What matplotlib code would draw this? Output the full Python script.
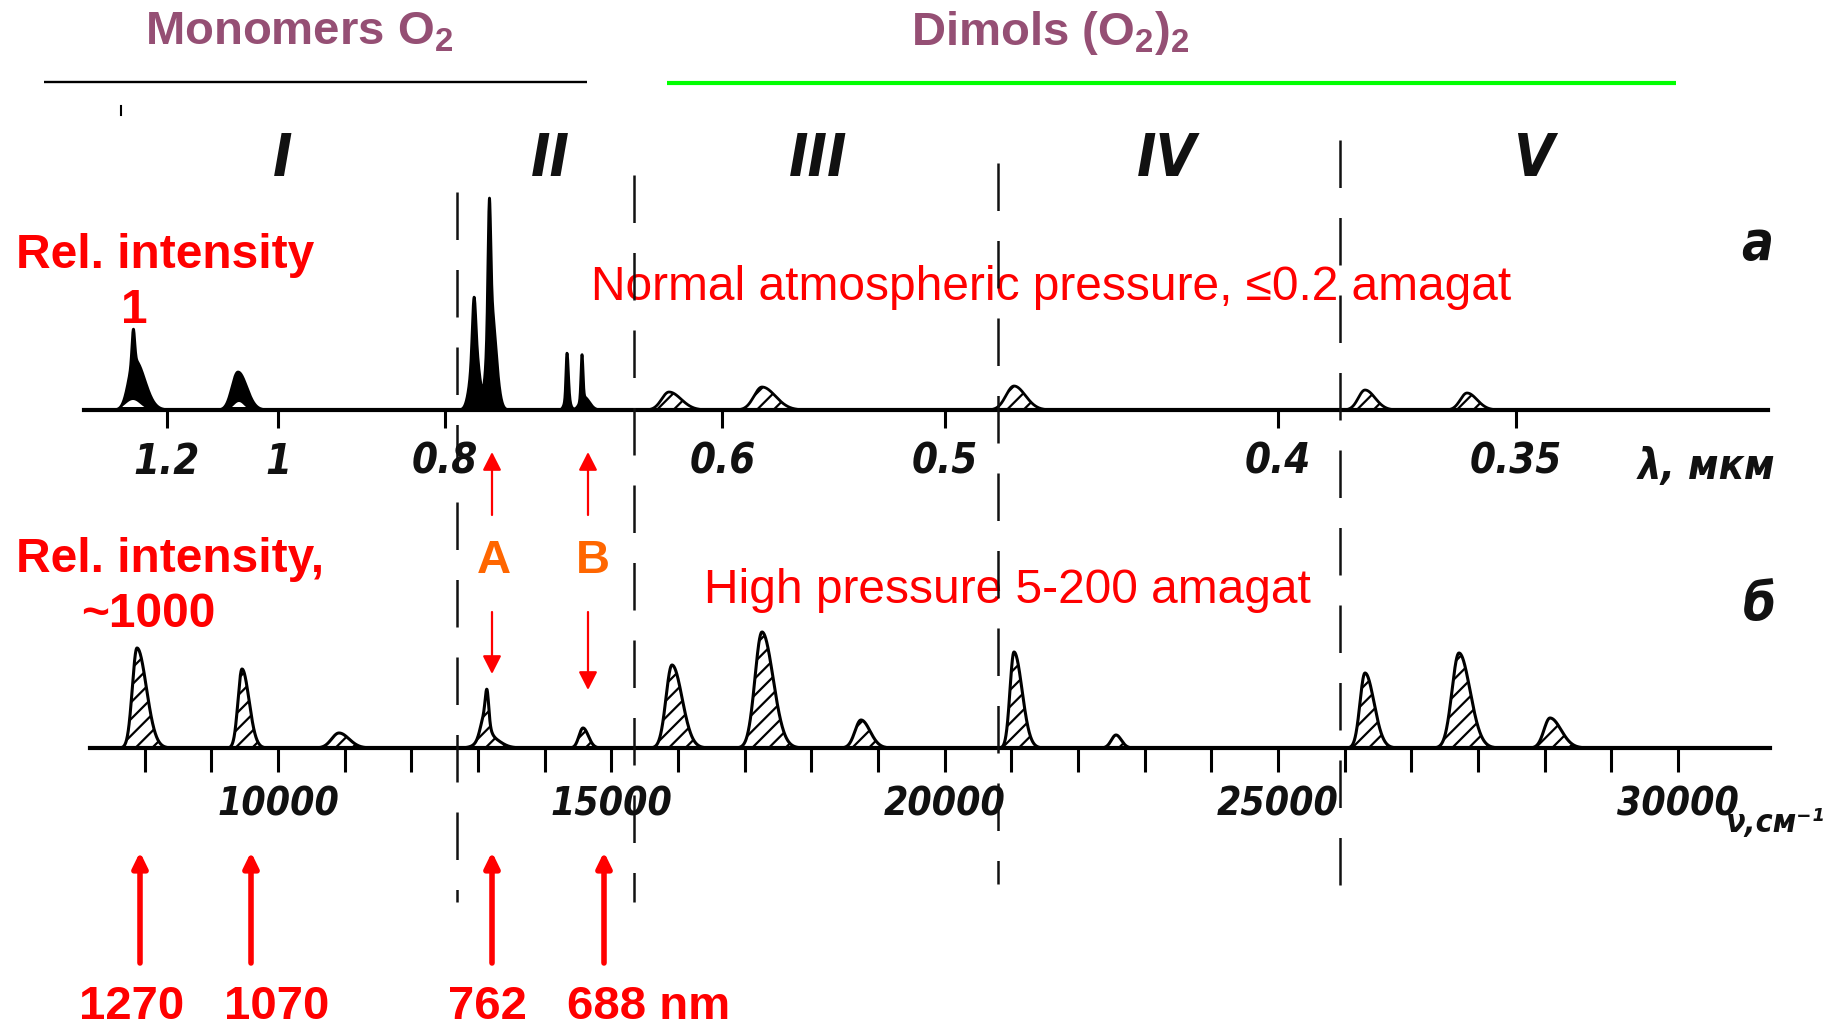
import numpy as np
import matplotlib
matplotlib.use("Agg")
import matplotlib.pyplot as plt
from matplotlib.transforms import blended_transform_factory
from matplotlib.font_manager import FontProperties

plt.rcParams['mathtext.fontset'] = 'custom'
plt.rcParams['mathtext.bf'] = 'Liberation Sans:bold'
plt.rcParams['mathtext.rm'] = 'Liberation Sans:bold'
plt.rcParams['hatch.linewidth'] = 1.6

# ---------------- data ----------------
# visible wavenumber range across the figure (cm^-1)
nu_view = [5830, 33190]
top_base_range = [7090, 32350]
bot_base_range = [7180, 32380]

# (a) normal pressure: O2 monomer bands (solid black)
top_mono_center = [7830, 7850, 9400, 12940, 12960, 13170, 13190, 14335, 14340, 14560, 14590]
top_mono_height = [32, 50, 38, 55, 60, 110, 108, 45, 12, 44, 13]
top_mono_wl     = [20, 90, 90, 25, 70, 20, 55, 15, 40, 15, 60]
top_mono_wr     = [20, 150, 130, 25, 60, 20, 75, 20, 40, 15, 80]
# white gaps at the foot of the two IR monomer bands (scan detail)
top_gap_center = [7825, 9415]
top_gap_height = [10, 8]
top_gap_w      = [110, 75]
# (a) weak dimol bands (hatched)
top_dim_center = [15865, 17260, 21040, 26305, 27835]
top_dim_height = [18, 23, 24, 20, 17]
top_dim_wl     = [110, 120, 120, 100, 100]
top_dim_wr     = [180, 200, 170, 150, 150]

# (b) high pressure bands (hatched)
bot_center = [7885, 9460, 10915, 13100, 13135, 13150, 14575, 15910, 17260, 18745,
              21040, 22570, 26305, 27715, 29080]
bot_height = [100, 79, 15, 22, 28, 12, 20, 83, 116, 28, 96, 13, 75, 95, 30]
bot_wl     = [70, 60, 110, 60, 25, 130, 60, 90, 105, 90, 60, 70, 75, 105, 90]
bot_wr     = [140, 105, 150, 60, 25, 160, 80, 150, 165, 135, 120, 80, 135, 165, 165]

# wavelength axis of (a), micrometres
top_tick_um = [1.2, 1.0, 0.8, 0.6, 0.5, 0.4, 0.35]
top_tick_lbl = ['1.2', '1', '0.8', '0.6', '0.5', '0.4', '0.35']
# wavenumber axis of (b)
bot_ticks = list(range(8000, 32000, 1000))
bot_lbl_at = {10000: '10000', 15000: '15000', 20000: '20000', 25000: '25000', 31000: '30000'}

# band-region separators (cm^-1)
sep_nu = [12684, 15337, 20795, 25937]
roman = ['I', 'II', 'III', 'IV', 'V']
roman_nu = [10075, 14080, 18100, 23335, 28825]

# arrows
small_arrow_nu = [13210, 14650]
big_arrow_nu = [7930, 9595, 13210, 14890]
big_arrow_lbl = ['1270', '1070', '762', '688 nm']


def bands(x, centers, heights, wl, wr):
    y = np.zeros_like(x)
    for c, h, a, b in zip(centers, heights, wl, wr):
        s = np.where(x < c, a, b)
        y += h * np.exp(-0.5 * ((x - c) / s) ** 2)
    return y


# ---------------- figure ----------------
W, H = 1824, 1026
fig = plt.figure(figsize=(W / 100, H / 100), dpi=100)


def px_box(top_row, bottom_row):
    return [0, 1 - bottom_row / H, 1, (bottom_row - top_row) / H]


cond_fam = ['DejaVu Sans Condensed', 'Liberation Sans Narrow', 'DejaVu Sans']


def cond(size):
    return FontProperties(family=cond_fam, weight='bold', style='italic',
                          stretch='condensed', size=size)


red_fam = ['Liberation Sans', 'DejaVu Sans']

ax_top = fig.add_axes(px_box(100, 500))
ax_bot = fig.add_axes(px_box(520, 880))
ax_top.set_ylim(-90, 310)
ax_bot.set_ylim(-132, 228)

for ax, rng in ((ax_top, top_base_range), (ax_bot, bot_base_range)):
    ax.set_xlim(*nu_view)
    ax.set_facecolor('none')
    for s in ('top', 'left', 'right'):
        ax.spines[s].set_visible(False)
    ax.spines['bottom'].set_position(('data', 0))
    ax.spines['bottom'].set_bounds(*rng)
    ax.spines['bottom'].set_linewidth(3)
    ax.set_yticks([])

# top spectrum
xt = np.linspace(top_base_range[0], top_base_range[1], 8000)
y_mono = bands(xt, top_mono_center, top_mono_height, top_mono_wl, top_mono_wr)
y_gap = bands(xt, top_gap_center, top_gap_height, top_gap_w, top_gap_w)
y_dim = bands(xt, top_dim_center, top_dim_height, top_dim_wl, top_dim_wr)
ax_top.fill_between(xt, 0, y_mono, where=y_mono > 0.3, color='black', lw=0)
ax_top.fill_between(xt, 3, y_gap, where=y_gap > 3, color='white', lw=0)
ax_top.fill_between(xt, 0, y_dim, where=y_dim > 0.3, facecolor='white',
                    edgecolor='black', hatch='//', lw=0)
ax_top.plot(xt, y_mono + y_dim, color='black', lw=2.0)
ax_top.set_xticks([1e4 / v for v in top_tick_um])
ax_top.set_xticklabels(top_tick_lbl)
ax_top.tick_params(axis='x', direction='out', length=13, width=2.2, pad=9)

# bottom spectrum
xb = np.linspace(bot_base_range[0], bot_base_range[1], 8000)
y_b = bands(xb, bot_center, bot_height, bot_wl, bot_wr)
ax_bot.fill_between(xb, 0, y_b, where=y_b > 0.3, facecolor='white',
                    edgecolor='black', hatch='//', lw=0)
ax_bot.plot(xb, y_b, color='black', lw=2.2)
ax_bot.set_xticks(bot_ticks)
ax_bot.set_xticklabels([bot_lbl_at.get(t, '') for t in bot_ticks])
ax_bot.tick_params(axis='x', direction='out', length=17, width=2.2, pad=10)

for ax, sz in ((ax_top, 30), (ax_bot, 28)):
    for lbl in ax.get_xticklabels():
        lbl.set_fontproperties(cond(sz))
        lbl.set_color('#111111')

# ---------------- annotation layer ----------------
ax_ann = fig.add_axes([0, 0, 1, 1])
ax_ann.set_xlim(0, W)
ax_ann.set_ylim(H, 0)
ax_ann.axis('off')
ax_ann.set_facecolor('none')
blend = blended_transform_factory(ax_bot.transData, ax_ann.transData)

# headings
head_col = '#954F74'
ax_ann.text(145, 45, r'Monomers O$_\mathbf{2}$', color=head_col, fontsize=34,
            fontweight='bold', family=red_fam, ha='left', va='baseline')
ax_ann.text(911, 45, r'Dimols (O$_\mathbf{2}$)$_\mathbf{2}$', color=head_col, fontsize=34,
            fontweight='bold', family=red_fam, ha='left', va='baseline')
ax_ann.plot([44, 587], [82, 82], color='black', lw=1.7, solid_capstyle='butt')
ax_ann.plot([667, 1676], [83, 83], color='#00FF00', lw=3, solid_capstyle='butt')
ax_ann.plot([121, 121], [106, 115], color='black', lw=1.5)

# roman numerals and panel letters
for r, n in zip(roman, roman_nu):
    ax_ann.text(n, 160, r, transform=blend, fontproperties=cond(42),
                ha='center', va='center', color='#111111')
ax_ann.text(1757, 244, 'а', fontproperties=cond(38), ha='center', va='center', color='#111111')
ax_ann.text(1759, 605, 'б', fontproperties=cond(38), ha='center', va='center', color='#111111')
ax_ann.text(1706, 467, 'λ, мкм', fontproperties=cond(30), ha='center', va='center',
            color='#111111')
ax_ann.text(1725, 832, 'ν,см⁻¹', fontproperties=cond(23), ha='left', va='baseline',
            color='#111111')

# dashed separators
sep_top = [192, 175, 163, 140]
sep_bot = [902, 902, 884, 902]
for n, t, b in zip(sep_nu, sep_top, sep_bot):
    ax_ann.plot([n, n], [t, b], transform=blend, color='#111111', lw=1.8,
                dashes=(19, 12), zorder=5)

# red texts
ax_ann.text(16, 268, 'Rel. intensity', color='red', fontsize=34.5, fontweight='bold',
            family=red_fam, ha='left', va='baseline')
ax_ann.text(134, 323, '1', color='red', fontsize=34.5, fontweight='bold',
            family=red_fam, ha='center', va='baseline')
ax_ann.text(1051, 300, 'Normal atmospheric pressure, ≤0.2 amagat', color='red', fontsize=34.5,
            family=red_fam, ha='center', va='baseline')
ax_ann.text(16, 572, 'Rel. intensity,', color='red', fontsize=34.5, fontweight='bold',
            family=red_fam, ha='left', va='baseline')
ax_ann.text(81, 627, '~1000', color='red', fontsize=34.5, fontweight='bold',
            family=red_fam, ha='left', va='baseline')
ax_ann.text(1007, 603, 'High pressure 5-200 amagat', color='red', fontsize=34.5,
            family=red_fam, ha='center', va='baseline')
orange = '#FF6600'
for x, s in zip([494, 593], ['A', 'B']):
    ax_ann.text(x, 573, s, color=orange, fontsize=34, fontweight='bold',
                family=red_fam, ha='center', va='baseline')


def arrow(n, y_from, y_to, lw, hl, hw):
    ax_ann.annotate('', xy=(n, y_to), xytext=(n, y_from), xycoords=blend, textcoords=blend,
                    arrowprops=dict(arrowstyle=f'-|>,head_length={hl},head_width={hw}',
                                    color='red', lw=lw, shrinkA=0, shrinkB=0,
                                    mutation_scale=20))


for n, tip in zip(small_arrow_nu, [674, 690]):
    arrow(n, 515, 452, 1.6, 0.55, 0.28)
    arrow(n, 612, tip, 1.6, 0.55, 0.28)

for n in big_arrow_nu:
    arrow(n, 963, 852, 4.0, 0.45, 0.22)
for x, s in zip([79, 224, 448, 567], big_arrow_lbl):
    ax_ann.text(x, 1019, s, color='red', fontsize=34, fontweight='bold',
                family=red_fam, ha='left', va='baseline')

fig.savefig('out.png', dpi=100)
